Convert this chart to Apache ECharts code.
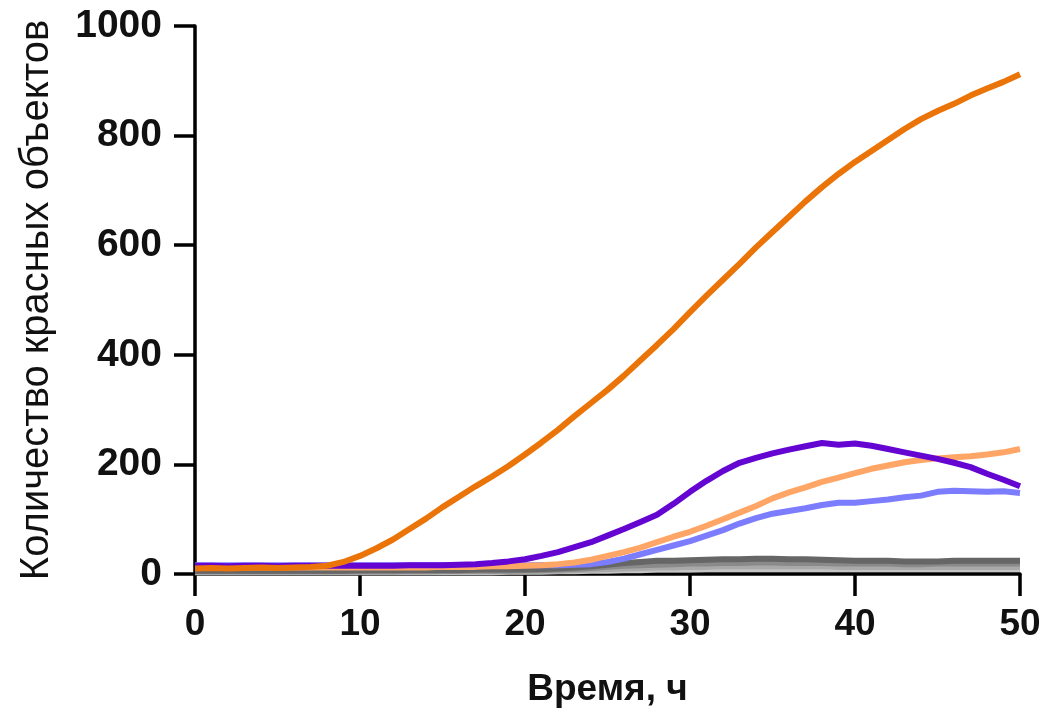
<!DOCTYPE html>
<html>
<head>
<meta charset="utf-8">
<script src="https://cdn.jsdelivr.net/npm/echarts@6/dist/echarts.min.js"></script>
<style>html,body{margin:0;padding:0;background:#fff}#c{width:1048px;height:714px}</style>
</head>
<body>
<div id="c"></div>
<script>
const hours = [0,1,2,3,4,5,6,7,8,9,10,11,12,13,14,15,16,17,18,19,20,21,22,23,24,25,26,27,28,29,30,31,32,33,34,35,36,37,38,39,40,41,42,43,44,45,46,47,48,49,50];
const xTicks = [0,10,20,30,40,50];
const yTicks = [0,200,400,600,800,1000];

const orangeDark = [10,11,10,11,12,11,12,13,15,22,33,47,63,82,101,122,141,160,178,197,218,240,263,288,312,336,362,390,418,447,478,508,537,566,596,624,652,680,706,730,752,772,792,812,830,845,858,873,886,898,912];
const purple = [15,15,14,15,15,14,15,15,15,15,15,15,15,16,16,16,17,18,20,23,27,33,40,49,58,70,82,95,108,128,150,170,188,203,212,220,227,233,239,236,238,234,228,222,216,210,203,195,183,172,160];
const lightOrange = [12,12,12,12,12,12,12,12,12,12,12,12,12,12,12,13,13,13,14,14,15,16,18,21,26,33,40,48,58,68,77,88,100,112,124,138,149,158,168,176,184,192,198,204,208,211,213,215,218,222,228];
const lightBlue = [16,16,16,16,16,16,16,16,16,16,16,16,16,16,16,16,16,16,16,16,16,16,16,17,18,22,28,36,44,52,60,70,80,92,102,110,115,120,126,130,130,133,136,140,143,150,152,151,150,151,148];
const grayDark = [6,6,6,6,6,6,6,6,6,6,7,7,7,7,7,7,7,8,8,8,8,9,10,12,14,17,20,22,24,24,25,26,27,27,28,28,27,27,26,25,24,24,24,23,23,23,24,24,24,24,24];
const grayMid = [5,5,5,5,5,5,5,5,5,5,5,5,5,6,6,6,6,6,6,6,7,7,8,9,11,13,15,16,17,18,19,19,20,20,21,21,20,20,20,19,19,19,19,18,18,19,19,19,19,19,19];
const grayLight = [4,4,4,4,4,4,4,4,4,4,4,4,4,4,4,5,5,5,5,5,5,6,6,7,8,9,10,11,12,12,13,13,14,14,14,14,14,14,14,13,13,13,13,13,13,13,13,13,13,13,13];
const grayPale = [3,3,3,3,3,3,3,3,3,3,3,3,3,3,3,3,3,3,3,4,4,4,5,5,6,6,7,7,8,8,8,9,9,9,9,9,9,9,9,9,9,9,9,9,9,9,9,9,9,9,9];

const pair = arr => hours.map((h, i) => [h, arr[i]]);
const mk = (name, arr, color, w, z) => ({
  name, type: 'line', data: pair(arr), showSymbol: false, smooth: false, z: z,
  lineStyle: { color: color, width: w }, itemStyle: { color: color }
});

const chart = echarts.init(document.getElementById('c'), null, { renderer: 'canvas' });
chart.setOption({
  animation: false,
  backgroundColor: '#ffffff',
  grid: { left: 195, right: 28, top: 26, bottom: 140, outerBoundsMode: 'none', containLabel: false },
  xAxis: {
    type: 'value', min: 0, max: 50, interval: 10,
    name: 'Время, ч', nameLocation: 'middle', nameGap: 97,
    nameTextStyle: { fontFamily: 'Liberation Sans', fontWeight: 'bold', fontSize: 37, color: '#111' },
    axisLine: { show: true, lineStyle: { color: '#000', width: 3.5 } },
    axisTick: { show: true, inside: false, length: 22, lineStyle: { color: '#000', width: 3.5 } },
    axisLabel: { margin: 32, fontFamily: 'Liberation Sans', fontWeight: 'bold', fontSize: 37, color: '#111',
      formatter: v => xTicks.includes(v) ? String(v) : '' },
    splitLine: { show: false }
  },
  yAxis: {
    type: 'value', min: 0, max: 1000, interval: 200,
    name: 'Количество красных объектов', nameLocation: 'middle', nameGap: 138,
    nameTextStyle: { fontFamily: 'Liberation Sans', fontWeight: 'normal', fontSize: 40, color: '#111' },
    axisLine: { show: true, lineStyle: { color: '#000', width: 3.5 } },
    axisTick: { show: true, inside: false, length: 21, lineStyle: { color: '#000', width: 3.5 } },
    axisLabel: { margin: 33, fontFamily: 'Liberation Sans', fontWeight: 'bold', fontSize: 39, color: '#111',
      formatter: v => yTicks.includes(v) ? String(v) : '' },
    splitLine: { show: false }
  },
  series: [
    mk('grayPale', grayPale, '#c4c4c4', 6, 2),
    mk('grayLight', grayLight, '#a9a9a9', 6, 2),
    mk('grayMid', grayMid, '#8a8a8a', 6, 2),
    mk('grayDark', grayDark, '#666666', 6, 2),
    mk('lightBlue', lightBlue, '#7c7cff', 6, 3),
    mk('lightOrange', lightOrange, '#ffa566', 6, 3),
    mk('purple', purple, '#6405d2', 6, 4),
    mk('orangeDark', orangeDark, '#ea7408', 6, 5)
  ]
});
</script>
</body>
</html>
